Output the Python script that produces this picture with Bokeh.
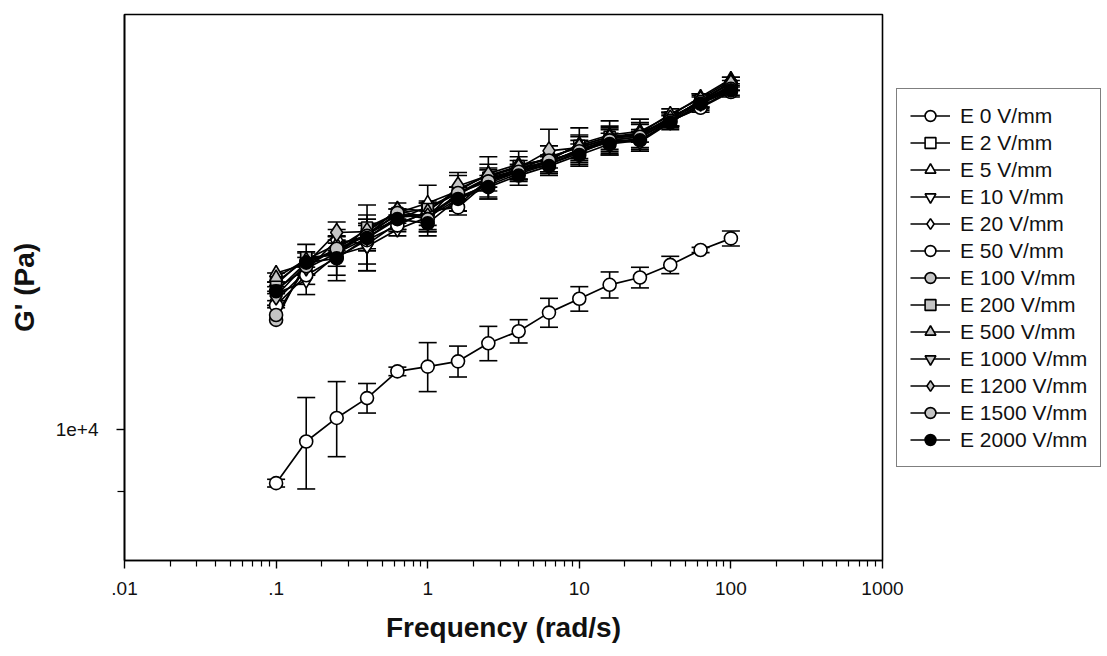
from bokeh.plotting import figure
from bokeh.models import (ColumnDataSource, Whisker, TeeHead, FixedTicker,
                          Legend, LegendItem)
from bokeh.embed import file_html
from bokeh.resources import INLINE

# ---------------- data ----------------
freq = [0.1, 0.158, 0.251, 0.398, 0.631, 1.0, 1.585, 2.512, 3.981, 6.31,
        10.0, 15.85, 25.12, 39.81, 63.1, 100.0]

e0 = [9130, 9800, 10200, 10550, 11040, 11130, 11230, 11580, 11820, 12200,
      12490, 12790, 12950, 13230, 13570, 13840]
e0_err = [60, 760, 650, 265, 80, 463, 295, 338, 234, 300, 260, 283, 227, 195, 60, 177]

e2 = [12850, 13350, 13500, 13950, 14300, 14600, 14950, 15350, 15650, 15850,
      16200, 16450, 16500, 17000, 17450, 17950]
e2_err = [200, 350, 300, 700, 250, 550, 450, 550, 400, 350, 500, 450, 450, 250, 200, 150]
e5 = [13050, 13250, 13600, 14050, 14450, 14700, 15000, 15450, 15700, 15800,
      16250, 16500, 16600, 17050, 17600, 18150]
e10 = [12600, 12880, 13450, 13650, 14050, 14350, 14800, 15200, 15500, 15700,
       16050, 16300, 16350, 16900, 17300, 17800]
e10_err = [250, 300, 450, 550, 150, 350, 300, 350, 200, 250, 300, 350, 250, 200, 150, 200]
e20 = [12450, 13100, 13800, 13700, 14200, 14450, 14650, 15300, 15550, 15900,
       16150, 16400, 16550, 16950, 17500, 18050]
e20_err = [150, 300, 250, 600, 200, 300, 250, 300, 250, 300, 350, 300, 250, 200, 200, 150]
e50 = [12350, 13000, 13400, 13800, 14150, 14500, 14590, 15250, 15600, 15750,
       16100, 16350, 16450, 16900, 17280, 17750]
e100 = [12050, 13300, 13550, 13950, 14400, 14400, 14900, 15350, 15550, 15800,
        16050, 16400, 16500, 17000, 17450, 17900]
e200 = [12800, 13400, 13450, 14100, 14450, 14550, 14950, 15300, 15500, 15750,
        16100, 16300, 16400, 16950, 17500, 17900]
e500 = [12950, 13350, 13700, 13900, 14560, 14500, 15050, 15400, 15650, 15850,
        16200, 16450, 16550, 17100, 17550, 18100]
e1000 = [12700, 13150, 13500, 13850, 14350, 14400, 14850, 15150, 15450, 15700,
         16000, 16350, 16300, 16850, 17400, 17850]
e1200 = [12550, 13250, 13980, 14000, 14500, 14350, 15130, 15400, 15600, 16060,
         16150, 16400, 16500, 16950, 17500, 18000]
e1200_err = [200, 250, 250, 400, 200, 350, 350, 300, 300, 600, 300, 350, 350, 200, 200, 200]
e1500 = [12150, 13200, 13600, 13900, 14450, 14300, 14950, 15250, 15500, 15800,
         16050, 16350, 16450, 16900, 17450, 17850]
e2000 = [12650, 13280, 13380, 13850, 14300, 14200, 14800, 15100, 15400, 15650,
         15950, 16250, 16350, 16850, 17400, 17800]
e2000_err = [200, 250, 500, 300, 250, 300, 300, 300, 250, 250, 300, 300, 300, 200, 200, 150]

labels = ["E 0 V/mm", "E 2 V/mm", "E 5 V/mm", "E 10 V/mm", "E 20 V/mm",
          "E 50 V/mm", "E 100 V/mm", "E 200 V/mm", "E 500 V/mm",
          "E 1000 V/mm", "E 1200 V/mm", "E 1500 V/mm", "E 2000 V/mm"]
values = [e0, e2, e5, e10, e20, e50, e100, e200, e500, e1000, e1200, e1500, e2000]
errors = [e0_err, e2_err, None, e10_err, e20_err, None, None, None, None,
          None, e1200_err, None, e2000_err]

x_ticks = [0.01, 0.1, 1, 10, 100, 1000]
x_tick_labels = [".01", ".1", "1", "10", "100", "1000"]
y_ticks = [10000]
y_tick_labels = ["1e+4"]
y_minor = [9000]

# ---------------- style ----------------
GRAY = "#c4c4c4"
markers = ["circle", "square", "triangle", "inverted_triangle", "diamond", "circle",
           "circle", "square", "triangle", "inverted_triangle", "diamond", "circle",
           "circle"]
fills = ["white"] * 6 + [GRAY] * 6 + ["black"]
sizes = {"circle": 13, "square": 11, "triangle": 13, "inverted_triangle": 13, "diamond": 18}
FONT = "Liberation Sans"

p = figure(x_axis_type="log", y_axis_type="log",
           x_range=(0.01, 1000), y_range=(8005, 20250),
           frame_width=758, frame_height=546,
           min_border_left=124, min_border_right=225,
           min_border_top=14, min_border_bottom=96,
           output_backend="svg", toolbar_location=None)
p.background_fill_color = "white"
p.border_fill_color = "white"
p.xgrid.visible = False
p.ygrid.visible = False
p.outline_line_color = "black"
p.outline_line_width = 1.6
p.outline_line_alpha = 1.0

# x axis
p.xaxis.ticker = FixedTicker(ticks=x_ticks,
                             minor_ticks=[m * d for d in [0.01, 0.1, 1, 10, 100] for m in range(2, 10)])
p.xaxis.major_label_overrides = {t: l for t, l in zip(x_ticks, x_tick_labels)}
p.xaxis.axis_label = "Frequency (rad/s)"
# y axis
p.yaxis.ticker = FixedTicker(ticks=y_ticks, minor_ticks=y_minor)
p.yaxis.major_label_overrides = {t: l for t, l in zip(y_ticks, y_tick_labels)}
p.yaxis.axis_label = "G' (Pa)"

for ax in (p.xaxis[0], p.yaxis[0]):
    ax.axis_line_color = "black"
    ax.axis_line_width = 1.6
    ax.major_tick_line_color = "black"
    ax.minor_tick_line_color = "black"
    ax.major_tick_line_width = 1.4
    ax.minor_tick_line_width = 1.2
    ax.major_tick_in = 0
    ax.minor_tick_in = 0
    ax.major_tick_out = 8
    ax.minor_tick_out = 6
    ax.major_label_text_font = FONT
    ax.major_label_text_font_size = "19px"
    ax.major_label_text_color = "#111111"
    ax.axis_label_text_font = FONT
    ax.axis_label_text_font_style = "bold"
    ax.axis_label_text_font_size = "28px"
    ax.axis_label_text_color = "#111111"

p.xaxis.major_label_standoff = 13
p.xaxis.axis_label_standoff = 14
p.yaxis.major_label_standoff = 18
p.yaxis.axis_label_standoff = 13
p.yaxis.minor_tick_out = 7
p.yaxis.major_label_orientation = "horizontal"

items = []
line_rs = []
for lab, vals, err, mk, fc in zip(labels, values, errors, markers, fills):
    src = ColumnDataSource(dict(x=freq, y=vals))
    lr = p.line("x", "y", source=src, line_color="black", line_width=1.7)
    line_rs.append((lab, lr, src, err, mk, fc))

for lab, lr, src, err, mk, fc in line_rs:
    if err is not None:
        vals = src.data["y"]
        esrc = ColumnDataSource(dict(x=freq,
                                     lower=[v - e for v, e in zip(vals, err)],
                                     upper=[v + e for v, e in zip(vals, err)]))
        w = Whisker(source=esrc, base="x", lower="lower", upper="upper",
                    line_color="black", line_width=1.6,
                    upper_head=TeeHead(size=18, line_color="black", line_width=1.6),
                    lower_head=TeeHead(size=18, line_color="black", line_width=1.6))
        p.add_layout(w)

for lab, lr, src, err, mk, fc in line_rs:
    sr = p.scatter("x", "y", source=src, marker=mk, size=sizes[mk],
                   fill_color=fc, line_color="black", line_width=1.6)
    items.append(LegendItem(label=lab, renderers=[lr, sr]))

legend = Legend(items=items, location=(14, 93))
legend.label_text_font = FONT
legend.label_text_font_size = "21px"
legend.label_text_color = "#111111"
legend.glyph_width = 40
legend.glyph_height = 27
legend.label_height = 27
legend.spacing = 0
legend.padding = 13
legend.margin = 0
legend.label_standoff = 10
legend.border_line_color = "black"
legend.border_line_width = 1.3
legend.background_fill_color = "white"
legend.background_fill_alpha = 1.0
p.add_layout(legend, "right")

open("out.html", "w").write(file_html(p, INLINE))
